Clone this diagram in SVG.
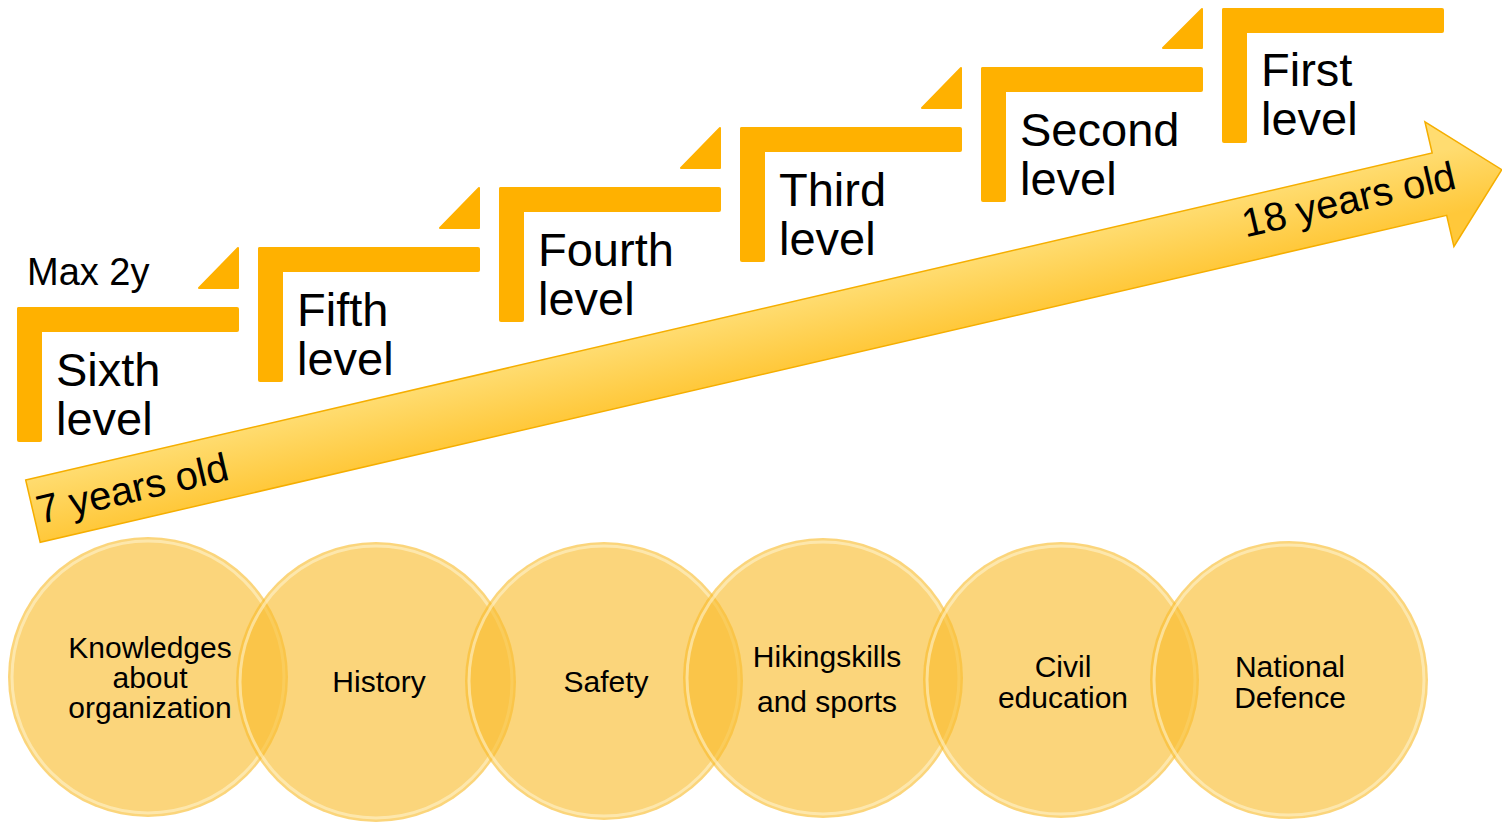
<svg xmlns="http://www.w3.org/2000/svg" width="1502" height="825" viewBox="0 0 1502 825">
  <defs>
    <linearGradient id="arrowGrad" gradientUnits="userSpaceOnUse" x1="0" y1="0" x2="0" y2="64">
      <stop offset="0" stop-color="#FFDC70"/>
      <stop offset="1" stop-color="#FFC83A"/>
    </linearGradient>
    <style>
      .bar { fill: #FFB100; }
      .tri { fill: #FFB100; stroke: #FFB100; stroke-width: 2; stroke-linejoin: round; }
      .lvl { font-family: "Liberation Sans", Arial, sans-serif; font-size: 47px; fill: #000; }
      .max { font-family: "Liberation Sans", Arial, sans-serif; font-size: 38px; fill: #000; }
      .age { font-family: "Liberation Sans", Arial, sans-serif; font-size: 40px; fill: #000; }
      .disc { fill: #F8BC2A; fill-opacity: 0.62; }
      .rim { fill: none; stroke: #FFF6D6; stroke-width: 3; stroke-opacity: 0.55; }
      .ct { font-family: "Liberation Sans", Arial, sans-serif; font-size: 30px; fill: #000; text-anchor: middle; }
    </style>
  </defs>
  <rect width="1502" height="825" fill="#FFFFFF"/>

  <g id="max-label">
    <text class="max" x="27" y="285">Max 2y</text>
  </g>

  <g id="step-sixth">
    <rect class="bar" x="17" y="307" width="222" height="25" rx="2"/>
    <rect class="bar" x="17" y="307" width="25" height="135" rx="2"/>
    <polygon class="tri" points="199,288 238,248 238,288"/>
    <text class="lvl" x="56" y="386">Sixth</text>
    <text class="lvl" x="56" y="435">level</text>
  </g>
  <g id="step-fifth">
    <rect class="bar" x="258" y="247" width="222" height="25" rx="2"/>
    <rect class="bar" x="258" y="247" width="25" height="135" rx="2"/>
    <polygon class="tri" points="440,228 479,188 479,228"/>
    <text class="lvl" x="297" y="326">Fifth</text>
    <text class="lvl" x="297" y="375">level</text>
  </g>
  <g id="step-fourth">
    <rect class="bar" x="499" y="187" width="222" height="25" rx="2"/>
    <rect class="bar" x="499" y="187" width="25" height="135" rx="2"/>
    <polygon class="tri" points="681,168 720,128 720,168"/>
    <text class="lvl" x="538" y="266">Fourth</text>
    <text class="lvl" x="538" y="315">level</text>
  </g>
  <g id="step-third">
    <rect class="bar" x="740" y="127" width="222" height="25" rx="2"/>
    <rect class="bar" x="740" y="127" width="25" height="135" rx="2"/>
    <polygon class="tri" points="922,108 961,68 961,108"/>
    <text class="lvl" x="779" y="206">Third</text>
    <text class="lvl" x="779" y="255">level</text>
  </g>
  <g id="step-second">
    <rect class="bar" x="981" y="67" width="222" height="25" rx="2"/>
    <rect class="bar" x="981" y="67" width="25" height="135" rx="2"/>
    <polygon class="tri" points="1163,48 1202,9 1202,48"/>
    <text class="lvl" x="1020" y="146">Second</text>
    <text class="lvl" x="1020" y="195">level</text>
  </g>
  <g id="step-first">
    <rect class="bar" x="1222" y="8" width="222" height="25" rx="2"/>
    <rect class="bar" x="1222" y="8" width="25" height="135" rx="2"/>
    <text class="lvl" x="1261" y="86">First</text>
    <text class="lvl" x="1261" y="135">level</text>
  </g>

  <g id="connectors">
    <g id="age-arrow" transform="translate(25.7,480) rotate(-13.09)">
      <path d="M0,0 L1444,0 L1444,-32 L1508,32 L1444,96 L1444,64 L0,64 Z" fill="url(#arrowGrad)" stroke="#F5AE00" stroke-width="1.5" stroke-linejoin="miter"/>
      <text class="age" x="4" y="46">7 years old</text>
      <text class="age" x="1243" y="40">18 years old</text>
    </g>
  </g>

  <g id="topic-knowledge">
    <circle class="disc" cx="148" cy="677" r="140"/>
    <circle class="rim" cx="148" cy="677" r="136"/>
  </g>
  <g id="topic-history">
    <circle class="disc" cx="376" cy="682" r="140"/>
    <circle class="rim" cx="376" cy="682" r="136"/>
  </g>
  <g id="topic-safety">
    <circle class="disc" cx="604" cy="681" r="139"/>
    <circle class="rim" cx="604" cy="681" r="135"/>
  </g>
  <g id="topic-hiking">
    <circle class="disc" cx="823" cy="678" r="140"/>
    <circle class="rim" cx="823" cy="678" r="136"/>
  </g>
  <g id="topic-civil">
    <circle class="disc" cx="1061" cy="680" r="138"/>
    <circle class="rim" cx="1061" cy="680" r="134"/>
  </g>
  <g id="topic-defence">
    <circle class="disc" cx="1289" cy="680" r="139"/>
    <circle class="rim" cx="1289" cy="680" r="135"/>
  </g>

  <g id="topic-labels">
    <text class="ct" x="150" y="658">Knowledges</text>
    <text class="ct" x="150" y="688">about</text>
    <text class="ct" x="150" y="718">organization</text>
    <text class="ct" x="379" y="692">History</text>
    <text class="ct" x="606" y="692">Safety</text>
    <text class="ct" x="827" y="667">Hikingskills</text>
    <text class="ct" x="827" y="712">and sports</text>
    <text class="ct" x="1063" y="677">Civil</text>
    <text class="ct" x="1063" y="708">education</text>
    <text class="ct" x="1290" y="677">National</text>
    <text class="ct" x="1290" y="708">Defence</text>
  </g>
</svg>
